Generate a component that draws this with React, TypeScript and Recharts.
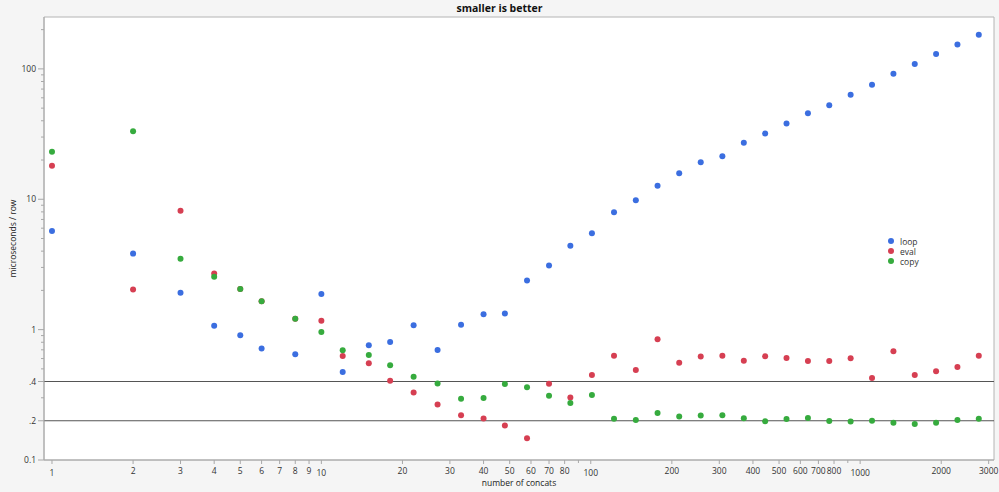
import { ScatterChart, Scatter, XAxis, YAxis, ReferenceLine, Label, CartesianGrid } from 'recharts'

// number of concats (x) and timings in microseconds / row (y)
const concats = [
  1, 2, 3, 4, 5, 6, 8, 10, 12, 15, 18, 22, 27, 33, 40, 48, 58, 70, 84,
  101, 122, 147, 177, 213, 256, 308, 370, 444, 533, 640, 768, 922,
  1107, 1329, 1595, 1914, 2297, 2757,
]

const loopTimes = [
  5.7, 3.83, 1.92, 1.07, 0.904, 0.715, 0.646, 1.88, 0.473, 0.758, 0.804, 1.08, 0.698, 1.09, 1.31, 1.33, 2.38, 3.1, 4.39,
  5.48, 7.95, 9.82, 12.7, 15.8, 19.2, 21.4, 27.1, 31.9, 38.1, 45.7, 52.6, 63.2,
  75.5, 91.7, 109, 130, 154, 183,
]

const evalTimes = [
  18.1, 2.03, 8.15, 2.69, 2.05, 1.65, 1.21, 1.17, 0.628, 0.551, 0.406, 0.33, 0.267, 0.22, 0.208, 0.184, 0.147, 0.385, 0.302,
  0.449, 0.631, 0.49, 0.843, 0.558, 0.621, 0.631, 0.578, 0.624, 0.606, 0.575, 0.575, 0.602,
  0.426, 0.682, 0.449, 0.479, 0.517, 0.631,
]

const copyTimes = [
  23.1, 33.3, 3.5, 2.55, 2.05, 1.65, 1.21, 0.96, 0.694, 0.639, 0.532, 0.436, 0.387, 0.295, 0.299, 0.383, 0.361, 0.311, 0.274,
  0.315, 0.207, 0.203, 0.229, 0.216, 0.219, 0.22, 0.209, 0.198, 0.206, 0.21, 0.199, 0.197,
  0.2, 0.193, 0.189, 0.193, 0.203, 0.207,
]

const xTicks = [
  1, 2, 3, 4, 5, 6, 7, 8, 9,
  10, 20, 30, 40, 50, 60, 70, 80, 90,
  100, 200, 300, 400, 500, 600, 700, 800, 900,
  1000, 2000, 3000,
]
const xUnlabeled = [90, 900]
const xDecades = [1, 10, 100, 1000]

const yTicks = [
  0.1, 0.2, 0.3, 0.4, 0.5, 0.6, 0.7, 0.8, 0.9,
  1, 2, 3, 4, 5, 6, 7, 8, 9,
  10, 20, 30, 40, 50, 60, 70, 80, 90,
  100, 200,
]
const yTickLabels: Record<string, string> = { '0.1': '0.1', '0.2': '.2', '0.4': '.4', '1': '1', '10': '10', '100': '100' }

const refLines = [0.4, 0.2]

const series = [
  { name: 'loop', color: '#3b6ee0', values: loopTimes },
  { name: 'eval', color: '#d63f52', values: evalTimes },
  { name: 'copy', color: '#36ab3e', values: copyTimes },
]

const FONT = '"Open Sans", "Noto Sans", sans-serif'
const AXIS = '#a8a8a8'

function XTick(props: any) {
  const { x, y, payload } = props
  const v = payload.value
  const show = !xUnlabeled.includes(v)
  const decade = xDecades.includes(v)
  return (
    <g>
      <line x1={x} x2={x} y1={y} y2={y + (show ? 4 : 3)} stroke={AXIS} />
      {show && (
        <text x={x} y={y + (decade ? 16 : 13.5)} textAnchor="middle" fontSize={8.5} fontFamily={FONT} fill="#333">
          {v}
        </text>
      )}
    </g>
  )
}

function YTick(props: any) {
  const { x, y, payload } = props
  const label = yTickLabels[String(payload.value)]
  return (
    <g>
      <line x1={x - (label ? 6 : 3)} x2={x} y1={y} y2={y} stroke={AXIS} />
      {label && (
        <text x={x - 8} y={y + 3} textAnchor="end" fontSize={8.5} fontFamily={FONT} fill="#333">
          {label}
        </text>
      )}
    </g>
  )
}

function LegendBox() {
  return (
    <div style={{ position: 'absolute', left: 888, top: 236, fontFamily: FONT, fontSize: 8.5, color: '#333' }}>
      {series.map((s) => (
        <div key={s.name} style={{ display: 'flex', alignItems: 'center', height: 10 }}>
          <span style={{ width: 6, height: 6, borderRadius: 3, background: s.color, marginRight: 6 }} />
          {s.name}
        </div>
      ))}
    </div>
  )
}

export default function App() {
  return (
    <div style={{ position: 'absolute', left: 0, top: 0, width: 999, height: 492, background: '#f5f5f5' }}>
      <div
        style={{
          position: 'absolute', left: 0, top: 1, width: 999, textAlign: 'center',
          fontFamily: FONT, fontSize: 10.5, fontWeight: 'bold', color: '#111', lineHeight: '14px',
        }}
      >
        smaller is better
      </div>
      <ScatterChart width={999} height={492} margin={{ top: 17, right: 5, bottom: 0, left: 0 }}>
        <CartesianGrid
          fill="#fff"
          stroke="#b4b4b4"
          horizontalCoordinatesGenerator={(p: any) => [p.offset.top, p.offset.top + p.offset.height]}
          verticalCoordinatesGenerator={(p: any) => [p.offset.left, p.offset.left + p.offset.width]}
        />
        <XAxis
          dataKey="x"
          type="number"
          scale="log"
          domain={[0.934, 3140]}
          ticks={xTicks}
          interval={0}
          tickSize={0}
          tickMargin={0}
          tick={<XTick />}
          height={32}
          stroke={AXIS}
          allowDataOverflow
        >
          <Label
            content={(p: any) => (
              <text
                x={p.viewBox.x + p.viewBox.width / 2}
                y={p.viewBox.y + 26}
                textAnchor="middle"
                fontSize={8.5}
                fontFamily={FONT}
                fill="#222"
              >
                number of concats
              </text>
            )}
          />
        </XAxis>
        <YAxis
          dataKey="y"
          type="number"
          scale="log"
          domain={[0.1, 250]}
          ticks={yTicks}
          interval={0}
          tickSize={0}
          tickMargin={0}
          tick={<YTick />}
          width={44}
          stroke={AXIS}
          allowDataOverflow
        >
          <Label
            content={(p: any) => {
              const cx = p.viewBox.x + 16
              const cy = p.viewBox.y + p.viewBox.height / 2
              return (
                <text
                  x={cx}
                  y={cy}
                  transform={`rotate(-90, ${cx}, ${cy})`}
                  textAnchor="middle"
                  fontSize={8.5}
                  fontFamily={FONT}
                  fill="#222"
                >
                  microseconds / row
                </text>
              )
            }}
          />
        </YAxis>
        {refLines.map((v) => (
          <ReferenceLine key={v} y={v} stroke="#555" strokeWidth={1} />
        ))}
        {series.map((s) => (
          <Scatter
            key={s.name}
            name={s.name}
            data={concats.map((c, i) => ({ x: c, y: s.values[i] }))}
            fill={s.color}
            isAnimationActive={false}
            shape={(p: any) => <circle cx={p.cx} cy={p.cy} r={3} fill={s.color} />}
          />
        ))}
      </ScatterChart>
      <LegendBox />
    </div>
  )
}
